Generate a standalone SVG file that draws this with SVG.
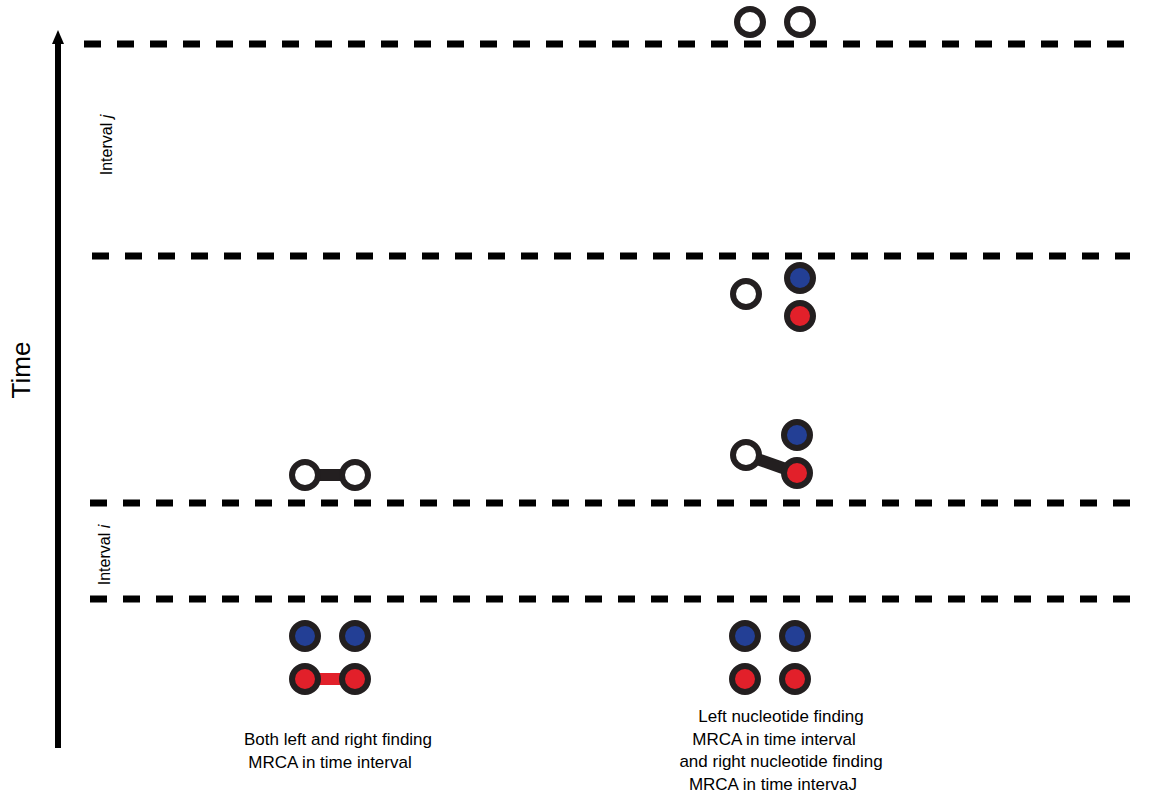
<svg xmlns="http://www.w3.org/2000/svg" width="1149" height="800" viewBox="0 0 1149 800">
<style>
.d{stroke:#000;stroke-width:7;stroke-dasharray:17 16;fill:none}
.c{stroke:#231f20;stroke-width:6}
.w{fill:#fff}.b{fill:#233f95}.r{fill:#e2202a}
text{font-family:"Liberation Sans",Arial,sans-serif;fill:#000}
.t{font-size:17px;text-anchor:middle}
.i{font-size:16px}
</style>
<rect width="1149" height="800" fill="#fff"/>
<g id="connectors">
<line x1="58" y1="748" x2="58" y2="42" stroke="#000" stroke-width="6"/>
<polygon points="52,44 58,30 64,44" fill="#000"/>
<line class="d" x1="84" y1="44" x2="1130" y2="44"/>
<line class="d" x1="92" y1="256" x2="1130" y2="256"/>
<line class="d" x1="90" y1="503" x2="1130" y2="503"/>
<line class="d" x1="90" y1="599" x2="1130" y2="599"/>
<line x1="305" y1="475" x2="355" y2="475" stroke="#231f20" stroke-width="12"/>
<line x1="305" y1="679" x2="355" y2="679" stroke="#e2202a" stroke-width="12"/>
<line x1="746" y1="455" x2="797" y2="473" stroke="#231f20" stroke-width="12"/>
</g>
<g id="labels">
<text x="30" y="370" font-size="26" text-anchor="middle" transform="rotate(-90 30 370)">Time</text>
<text class="i" x="112" y="145" text-anchor="middle" transform="rotate(-90 112 145)">Interval <tspan font-style="italic">j</tspan></text>
<text class="i" x="110" y="555" text-anchor="middle" transform="rotate(-90 110 555)">Interval <tspan font-style="italic">i</tspan></text>
<text class="t" x="338" y="745">Both left and right finding</text>
<text class="t" x="330" y="768">MRCA in time interval</text>
<text class="t" x="781" y="722">Left nucleotide finding</text>
<text class="t" x="774" y="745">MRCA in time interval</text>
<text class="t" x="781" y="767">and right nucleotide finding</text>
<text class="t" x="773" y="790">MRCA in time intervaJ</text>
</g>
<g id="n-top"><circle class="c w" cx="750" cy="22" r="13"/><circle class="c w" cx="800" cy="22" r="13"/></g>
<g id="n-row2"><circle class="c w" cx="746" cy="294" r="13"/><circle class="c b" cx="800" cy="278" r="13"/><circle class="c r" cx="800" cy="316" r="13"/></g>
<g id="n-row3"><circle class="c w" cx="746" cy="455" r="13"/><circle class="c b" cx="797" cy="435" r="13"/><circle class="c r" cx="797" cy="473" r="13"/></g>
<g id="n-left"><circle class="c w" cx="305" cy="475" r="13"/><circle class="c w" cx="355" cy="475" r="13"/></g>
<g id="n-bl"><circle class="c b" cx="305" cy="636" r="13"/><circle class="c b" cx="355" cy="636" r="13"/><circle class="c r" cx="305" cy="679" r="13"/><circle class="c r" cx="355" cy="679" r="13"/></g>
<g id="n-br"><circle class="c b" cx="745" cy="636" r="13"/><circle class="c b" cx="795" cy="636" r="13"/><circle class="c r" cx="745" cy="679" r="13"/><circle class="c r" cx="795" cy="679" r="13"/></g>
</svg>
